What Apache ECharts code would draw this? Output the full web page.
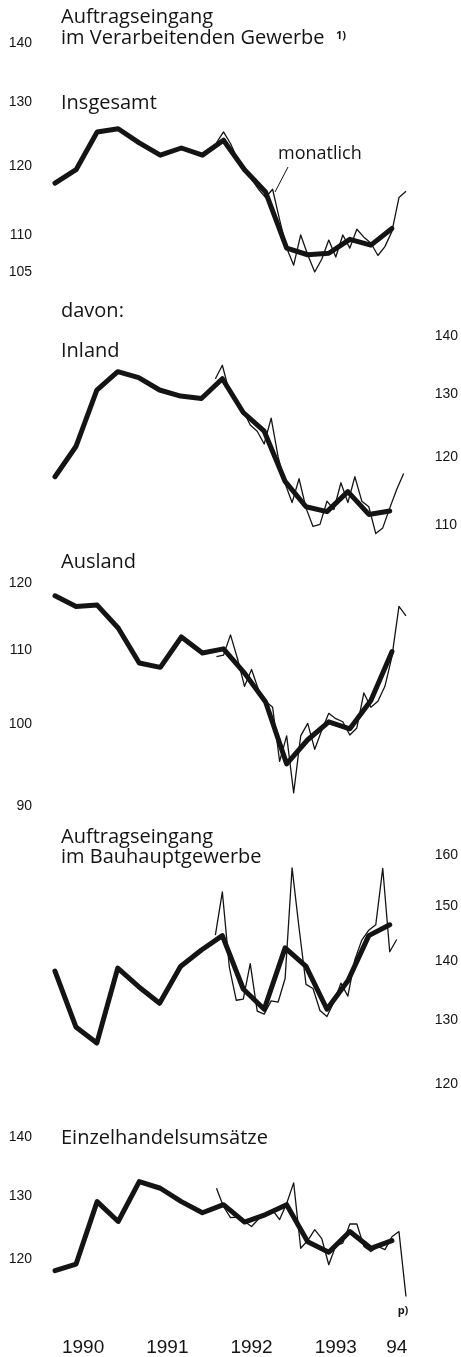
<!DOCTYPE html>
<html><head><meta charset="utf-8">
<script src="https://cdn.jsdelivr.net/npm/echarts@6/dist/echarts.min.js"></script>
<style>html,body{margin:0;padding:0;background:#fff}#c{width:461px;height:1357px}</style>
</head><body><div id="c"></div>
<script>
// ---- data (month index: Jan 1990 = 0) ----
const quarterMonths = [1,4,7,10,13,16,19,22,25,28,31,34,37,40,43,46,49]; // mid-month of each quarter, Q1 1990 .. Q1 1994
const monthlyStart = 24; // Jan 1992
const yearLabels = ['1990','1991','1992','1993','94'];
const yearLabelMonths = [5,17,29,41,49.7];

const insgesamtQ = [117.4,119.4,125.2,125.7,123.5,121.6,122.7,121.6,123.9,119.4,116.1,108.2,107.3,107.5,109.4,108.6,110.9];
const insgesamtM = [123.5,125.2,123.4,121.0,119.3,118.0,116.5,115.3,116.5,112.1,108.2,105.9,110.0,107.3,105.0,106.7,109.3,107.0,110.0,108.2,110.8,109.7,108.9,107.2,108.4,110.5,115.3,116.2];

const inlandQ = [117.0,121.6,130.7,133.8,132.8,130.7,129.7,129.3,132.6,127.0,124.0,116.3,112.6,111.9,114.8,111.5,112.0];
const inlandM = [132.6,134.9,130.4,129.0,127.3,125.0,124.0,122.0,126.1,120.0,116.0,113.2,116.7,112.4,109.8,110.1,113.4,112.2,116.1,113.2,117.0,113.4,112.6,108.8,109.6,112.4,115.1,117.5];

const auslandQ = [118.0,116.4,116.6,113.2,108.2,107.6,111.9,109.6,110.2,106.8,102.9,95.0,98.0,100.3,99.4,103.1,109.8];
const auslandM = [109.1,109.3,112.2,108.8,105.0,107.3,104.5,103.0,102.2,95.3,98.5,91.5,98.5,100.1,96.8,99.2,101.4,100.7,100.3,98.6,99.5,104.1,102.2,103.0,105.0,109.1,116.4,115.0];

const bauQ = [138.3,128.9,126.3,138.8,135.6,132.8,139.1,142.0,144.6,135.2,131.8,142.4,139.1,131.8,136.6,144.6,146.6];
const bauM = [144.7,152.8,139.0,133.3,133.5,139.6,131.5,131.0,133.2,133.0,137.0,157.5,146.0,136.0,135.3,131.6,130.6,133.0,136.2,134.0,140.3,143.8,145.6,146.6,157.4,141.7,143.9];

const handelQ = [118.3,119.3,129.1,125.9,132.4,131.3,129.1,127.3,128.6,125.8,127.0,128.6,122.7,121.1,124.3,121.7,122.9];
const handelM = [131.3,128.3,126.5,126.6,125.9,125.1,126.3,127.0,127.7,126.2,128.8,132.2,121.7,122.9,124.6,123.2,119.2,122.1,122.5,125.5,125.5,122.0,121.2,122.0,121.5,123.5,124.3,114.5];

const ticks1 = [105,110,120,130,140];
const ticks2 = [110,120,130,140];
const ticks3 = [90,100,110,120];
const ticks4 = [120,130,140,150,160];
const ticks5 = [120,130,140];

// ---- layout ----
const panels = [
  {q: insgesamtQ, m: insgesamtM, ticks: ticks1, side: 'left',  max: 140, min: 104, top: 43,    k: 796},
  {q: inlandQ,    m: inlandM,    ticks: ticks2, side: 'right', max: 140, min: 106, top: 336.2, k: 783},
  {q: auslandQ,   m: auslandM,   ticks: ticks3, side: 'left',  max: 120, min: 90,  top: 582.8, k: 775},
  {q: bauQ,       m: bauM,       ticks: ticks4, side: 'right', max: 160, min: 120, top: 855.3, k: 794},
  {q: handelQ,    m: handelM,    ticks: ticks5, side: 'left',  max: 140, min: 112, top: 1137.5, k: 791}
];

const INK = '#141414';
const grids = [], xAxes = [], yAxes = [], series = [];
panels.forEach((p, i) => {
  const h = p.k * Math.log(p.max / p.min);
  grids.push({left: 48, width: 365, top: p.top, height: h});
  const last = i === panels.length - 1;
  xAxes.push({
    gridIndex: i, type: 'value', min: 0, max: 52, show: last,
    axisLine: {show: false}, axisTick: {show: false}, splitLine: {show: false},
    axisLabel: {
      show: last, customValues: yearLabelMonths, margin: 24,
      fontFamily: 'Liberation Sans', fontSize: 19, color: INK,
      formatter: v => {
        let bi = 0;
        yearLabelMonths.forEach((mv, j) => { if (Math.abs(mv - v) < Math.abs(yearLabelMonths[bi] - v)) bi = j; });
        return yearLabels[bi];
      }
    }
  });
  yAxes.push({
    gridIndex: i, type: 'log', logBase: 10, min: p.min, max: p.max, position: p.side,
    axisLine: {show: false}, axisTick: {show: false}, splitLine: {show: false},
    axisLabel: {
      customValues: p.ticks, margin: p.side === 'left' ? 16 : 24,
      fontFamily: 'Liberation Sans', fontSize: 14, color: INK,
      formatter: v => String(Math.round(v))
    }
  });
  series.push({
    type: 'line', xAxisIndex: i, yAxisIndex: i, symbol: 'none', silent: true,
    lineStyle: {color: INK, width: 5, join: 'round', cap: 'round'},
    data: quarterMonths.map((mm, j) => [mm, p.q[j]]), z: 2
  });
  const md = p.m.map((v, j) => [monthlyStart + j, v]);
  const thin = {
    type: 'line', xAxisIndex: i, yAxisIndex: i, symbol: 'none', silent: true,
    lineStyle: {color: INK, width: 1.3, join: 'round'},
    data: md, z: 3
  };
  if (last) {
    thin.symbol = 'circle';
    thin.symbolSize = 1;
    thin.showSymbol = true;
    thin.showAllSymbol = true;
    thin.itemStyle = {color: 'rgba(0,0,0,0)', borderWidth: 0};
    thin.label = {show: false};
    const lp = md[md.length - 1];
    md[md.length - 1] = {value: lp, label: {show: true, formatter: 'p)', position: 'bottom', distance: 8, offset: [-3, 0],
      fontFamily: 'Open Sans', fontWeight: 'bold', fontSize: 11, color: INK}};
  }
  series.push(thin);
});

const TF = '"Open Sans"';
function txt(s, x, y, size, weight) {
  return {type: 'text', x: 0, y: 0, silent: true, style: {
    text: s, x: x, y: y, fill: INK,
    font: (weight || 'normal') + ' ' + size + 'px ' + TF,
    align: 'left', verticalAlign: 'middle', textAlign: 'left', textVerticalAlign: 'middle'
  }};
}
const graphics = [
  txt('Auftragseingang', 61, 17.5, 20),
  txt('im Verarbeitenden Gewerbe', 61, 38, 20),
  txt('1)', 336, 35.5, 11, 'bold'),
  txt('Insgesamt', 61, 103.3, 20),
  txt('monatlich', 278, 154, 18),
  txt('davon:', 61, 311, 20),
  txt('Inland', 61, 351, 20),
  txt('Ausland', 61, 562.5, 20),
  txt('Auftragseingang', 61, 837.5, 20),
  txt('im Bauhauptgewerbe', 61, 857.5, 20),
  txt('Einzelhandelsumsätze', 61, 1138.3, 20),
  {type: 'line', silent: true, shape: {x1: 288, y1: 167, x2: 275, y2: 192}, style: {stroke: INK, lineWidth: 1}}
];

const chart = echarts.init(document.getElementById('c'), null, {renderer: 'canvas'});
chart.setOption({
  animation: false,
  backgroundColor: '#fff',
  grid: grids, xAxis: xAxes, yAxis: yAxes, series: series,
  graphic: graphics
});
</script></body></html>
